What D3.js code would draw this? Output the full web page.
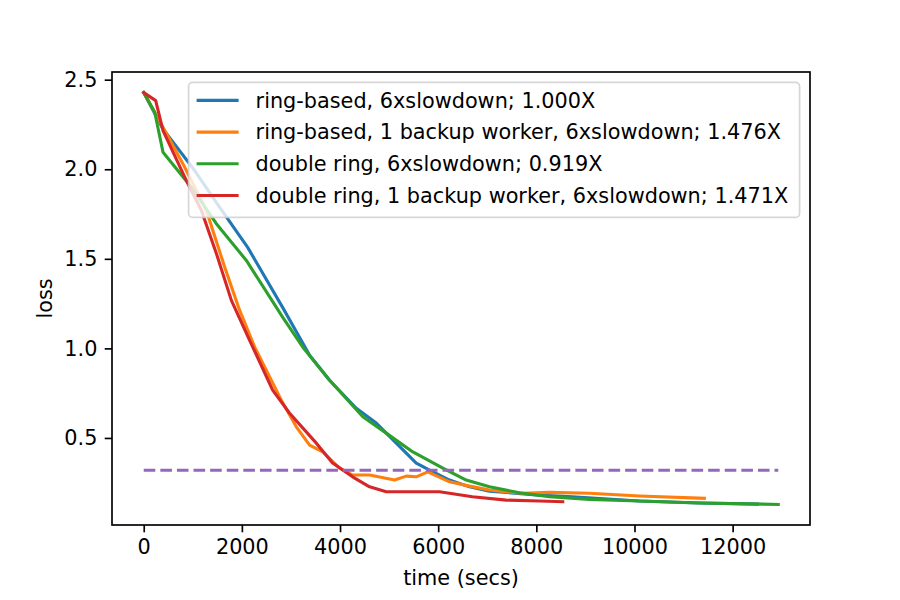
<!DOCTYPE html>
<html>
<head>
<meta charset="utf-8">
<script src="https://cdn.jsdelivr.net/npm/d3@7"></script>
<style>
  body { margin: 0; background: #fff; }
  svg { font-family: "DejaVu Sans", sans-serif; }
</style>
</head>
<body>
<svg id="chart" width="900" height="600"></svg>
<script>

//============================================================
// Data
//------------------------------------------------------------

var ringTime   = [0, 387, 1038, 1548, 2118, 2830, 3380, 3787, 4331, 4738, 5146, 5553, 5824, 6231, 6638, 7045, 8063, 8735, 10100, 11321, 12503];
var ringLoss   = [2.428, 2.227, 1.993, 1.787, 1.564, 1.229, 0.962, 0.822, 0.666, 0.583, 0.471, 0.360, 0.321, 0.265, 0.227, 0.203, 0.181, 0.172, 0.148, 0.137, 0.131];

var ringBackupTime = [0, 393, 800, 1277, 1649, 1955, 2260, 2804, 3109, 3380, 3645, 3991, 4256, 4602, 5111, 5349, 5553, 5789, 6231, 6638, 7045, 7717, 8267, 9082, 10100, 11424];
var ringBackupLoss = [2.428, 2.234, 2.030, 1.770, 1.454, 1.212, 1.008, 0.711, 0.562, 0.460, 0.423, 0.332, 0.293, 0.293, 0.265, 0.287, 0.283, 0.311, 0.255, 0.231, 0.209, 0.191, 0.196, 0.191, 0.176, 0.163];

var doubleTime = [0, 224, 393, 971, 1480, 2091, 2830, 3238, 3787, 4465, 4942, 5484, 6095, 6571, 7045, 7656, 8267, 9082, 10100, 11321, 12930];
var doubleLoss = [2.428, 2.318, 2.095, 1.900, 1.696, 1.491, 1.175, 1.008, 0.822, 0.618, 0.527, 0.422, 0.332, 0.265, 0.227, 0.194, 0.172, 0.157, 0.148, 0.137, 0.129];

var doubleBackupTime = [0, 244, 393, 869, 1175, 1480, 1786, 2158, 2627, 2973, 3517, 3848, 4256, 4602, 4942, 5416, 5824, 6027, 6699, 7386, 8063, 8538];
var doubleBackupLoss = [2.428, 2.383, 2.216, 1.937, 1.770, 1.530, 1.268, 1.045, 0.767, 0.638, 0.471, 0.360, 0.283, 0.227, 0.200, 0.200, 0.200, 0.200, 0.172, 0.153, 0.148, 0.144];

var targetLoss = 0.32;
var targetSpan = [0, 12930];

var seriesNames = [
  'ring-based, 6xslowdown; 1.000X',
  'ring-based, 1 backup worker, 6xslowdown; 1.476X',
  'double ring, 6xslowdown; 0.919X',
  'double ring, 1 backup worker, 6xslowdown; 1.471X'
];
var seriesColors = ['#1f77b4', '#ff7f0e', '#2ca02c', '#d62728'];
var targetColor = '#9467bd';

var xTicks = [0, 2000, 4000, 6000, 8000, 10000, 12000];
var yTicks = [0.5, 1.0, 1.5, 2.0, 2.5];

//============================================================
// Setup
//------------------------------------------------------------

var margin = {top: 72, right: 90, bottom: 75, left: 112},
    width = 900,
    height = 600,
    fontSize = 20.8,
    availableWidth = width - margin.left - margin.right,
    availableHeight = height - margin.top - margin.bottom;

function zip(xs, ys) {
  return xs.map(function(x, i) { return {x: x, y: ys[i]}; });
}

var data = [
  zip(ringTime, ringLoss),
  zip(ringBackupTime, ringBackupLoss),
  zip(doubleTime, doubleLoss),
  zip(doubleBackupTime, doubleBackupLoss)
].map(function(values, i) {
  return {key: seriesNames[i], color: seriesColors[i], values: values};
});

// matplotlib style 5% padding around the data
var all = d3.merge(data.map(function(d) { return d.values; }));
var xExt = d3.extent(all, function(d) { return d.x; }),
    yExt = d3.extent(all, function(d) { return d.y; });
var xPad = (xExt[1] - xExt[0]) * 0.05,
    yPad = (yExt[1] - yExt[0]) * 0.05;

var x = d3.scaleLinear()
  .domain([xExt[0] - xPad, xExt[1] + xPad])
  .range([0, availableWidth]);
var y = d3.scaleLinear()
  .domain([yExt[0] - yPad, yExt[1] + yPad])
  .range([availableHeight, 0]);

var svg = d3.select('#chart');
var g = svg.append('g')
  .attr('transform', 'translate(' + margin.left + ',' + margin.top + ')');

//------------------------------------------------------------
// Lines

var line = d3.line()
  .x(function(d) { return x(d.x); })
  .y(function(d) { return y(d.y); });

g.selectAll('path.series')
  .data(data)
  .enter().append('path')
    .attr('class', 'series')
    .attr('fill', 'none')
    .attr('stroke', function(d) { return d.color; })
    .attr('stroke-width', 3.1)
    .attr('stroke-linejoin', 'round')
    .attr('stroke-linecap', 'square')
    .attr('d', function(d) { return line(d.values); });

g.append('line')
  .attr('x1', x(targetSpan[0]))
  .attr('x2', x(targetSpan[1]))
  .attr('y1', y(targetLoss))
  .attr('y2', y(targetLoss))
  .attr('stroke', targetColor)
  .attr('stroke-width', 3.1)
  .attr('stroke-dasharray', '11.6,5');

//------------------------------------------------------------
// Axes

var xAxis = d3.axisBottom(x)
  .tickValues(xTicks)
  .tickFormat(d3.format('d'))
  .tickSize(7.3)
  .tickPadding(7.3);
var yAxis = d3.axisLeft(y)
  .tickValues(yTicks)
  .tickFormat(d3.format('.1f'))
  .tickSize(7.3)
  .tickPadding(7.3);

var xg = g.append('g')
  .attr('transform', 'translate(0,' + availableHeight + ')')
  .call(xAxis);
var yg = g.append('g').call(yAxis);

[xg, yg].forEach(function(a) {
  a.select('.domain').remove();
  a.selectAll('.tick line').attr('stroke', '#000').attr('stroke-width', 1.67);
  a.selectAll('.tick text')
    .attr('fill', '#000')
    .style('font-size', fontSize + 'px')
    .style('font-family', '"DejaVu Sans", sans-serif');
});

g.append('rect')
  .attr('width', availableWidth)
  .attr('height', availableHeight)
  .attr('fill', 'none')
  .attr('stroke', '#000')
  .attr('stroke-width', 1.67);

g.append('text')
  .attr('x', availableWidth / 2)
  .attr('y', availableHeight + 60)
  .attr('text-anchor', 'middle')
  .style('font-size', fontSize + 'px')
  .text('time (secs)');

g.append('text')
  .attr('transform', 'translate(' + (-60) + ',' + (availableHeight / 2) + ') rotate(-90)')
  .attr('text-anchor', 'middle')
  .style('font-size', fontSize + 'px')
  .text('loss');

//------------------------------------------------------------
// Legend (upper right)

var pad = 10.4,
    rowH = 31.7,
    boxW = 611,
    boxH = 8.3 * 2 + rowH * data.length - 10.4 + 2;

var legend = g.append('g')
  .attr('transform', 'translate(' + (availableWidth - pad - boxW) + ',' + pad + ')');

legend.append('rect')
  .attr('width', boxW)
  .attr('height', boxH)
  .attr('rx', 4)
  .attr('fill', '#fff')
  .attr('fill-opacity', 0.8)
  .attr('stroke', '#cccccc')
  .attr('stroke-opacity', 0.8)
  .attr('stroke-width', 1.67);

var rows = legend.selectAll('g.row')
  .data(data)
  .enter().append('g')
    .attr('class', 'row')
    .attr('transform', function(d, i) { return 'translate(0,' + (18 + i * rowH) + ')'; });

rows.append('line')
  .attr('x1', 8)
  .attr('x2', 50)
  .attr('stroke', function(d) { return d.color; })
  .attr('stroke-width', 3.1);

rows.append('text')
  .attr('x', 67)
  .attr('dy', '0.35em')
  .style('font-size', fontSize + 'px')
  .text(function(d) { return d.key; });

</script>
</body>
</html>
